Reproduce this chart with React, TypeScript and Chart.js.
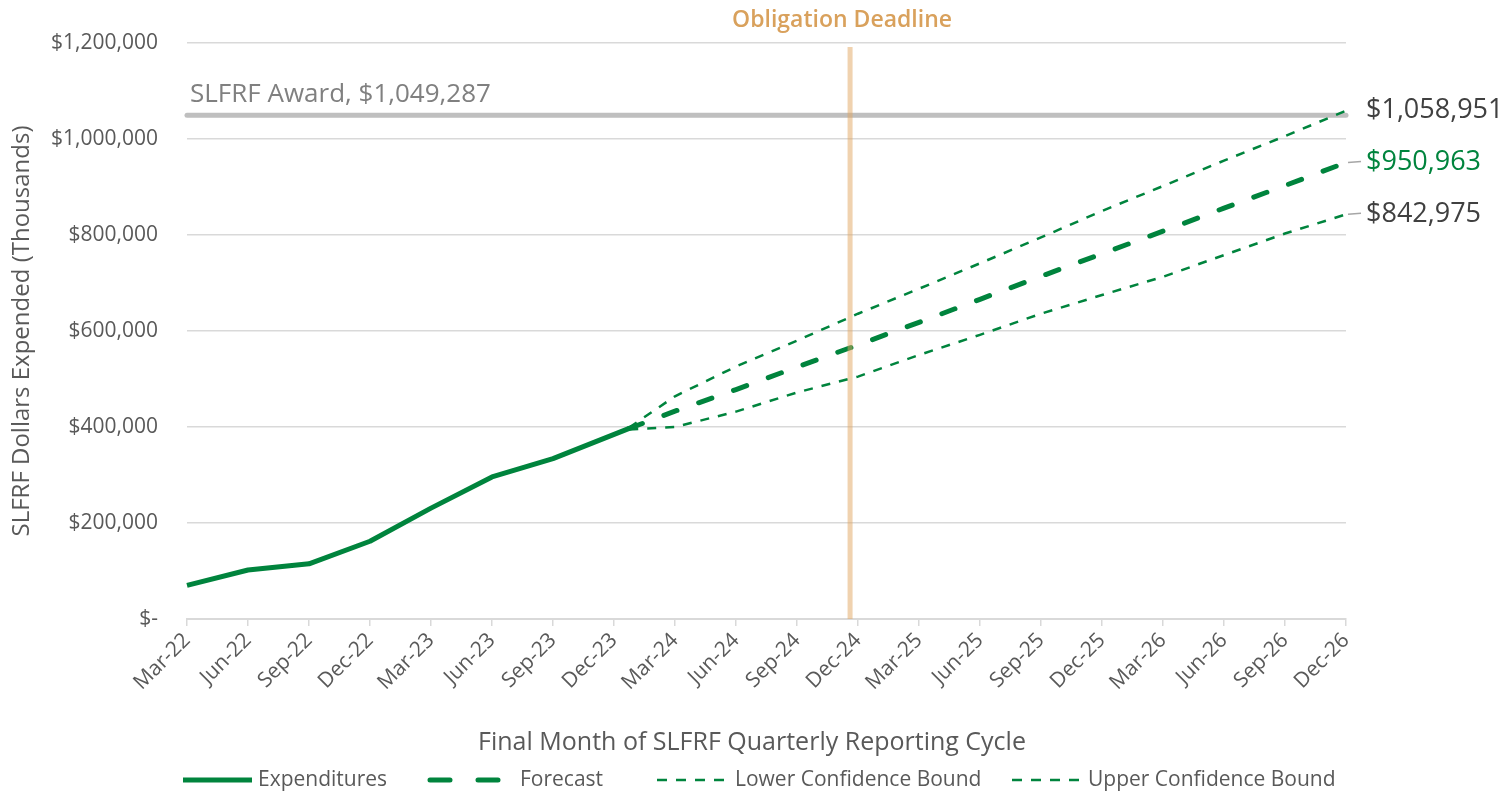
import React, { useEffect, useRef } from "react";
import { Chart, registerables } from "chart.js";

Chart.register(...registerables);

const xLabels = ["Mar-22","Jun-22","Sep-22","Dec-22","Mar-23","Jun-23","Sep-23","Dec-23","Mar-24","Jun-24","Sep-24","Dec-24","Mar-25","Jun-25","Sep-25","Dec-25","Mar-26","Jun-26","Sep-26","Dec-26"];
const expenditureQuarters = [0, 1, 2, 3, 4, 5, 6, 7.25];
const expenditureValues = [70000, 102000, 115000, 162000, 231000, 296000, 334000, 397000];
const forecastQuarters = [7.25, 8, 9, 10, 11, 12, 13, 14, 15, 16, 17, 18, 19];
const forecastValues = [397000, 433000, 478000, 525000, 571000, 618000, 666000, 714000, 761000, 808000, 856000, 903000, 950963];
const lowerValues = [395000, 400000, 432000, 472000, 505000, 550000, 592000, 636000, 675000, 713000, 758000, 803000, 842975];
const upperValues = [399000, 464000, 526000, 580000, 636000, 688000, 741000, 795000, 850000, 902000, 955000, 1006000, 1058951];
const awardQuarters = [0, 19];
const awardValue = 1049287;
const deadlineQuarter = 10.87;
const yTickValues = [0, 200000, 400000, 600000, 800000, 1000000, 1200000];

const GREEN = "#00843D";
const TEXT = "#595959";
const FONT = "'Open Sans', sans-serif";

const toPoints = (xs: number[], ys: number[]) => xs.map((x, i) => ({ x, y: ys[i] }));
const fmt = (v: number) => "$" + Math.round(v).toLocaleString("en-US");

const overlayPlugin = {
  id: "overlay",
  afterDatasetsDraw(chart: any) {
    const { ctx, chartArea, scales } = chart;
    const xs = scales.x;
    const ys = scales.y;
    ctx.save();
    // Deadline band
    const dx = xs.getPixelForValue(deadlineQuarter);
    ctx.fillStyle = "rgba(225,165,95,0.5)";
    ctx.fillRect(dx - 2.5, chartArea.top + 4, 5, chartArea.bottom - chartArea.top - 4);
    ctx.fillStyle = "#D9A15C";
    ctx.font = `600 23px ${FONT}`;
    ctx.textAlign = "center";
    ctx.textBaseline = "middle";
    ctx.fillText("Obligation Deadline", dx - 8, 20);

    // X axis title, centred on the whole chart
    ctx.fillStyle = TEXT;
    ctx.font = `25px ${FONT}`;
    ctx.fillText("Final Month of SLFRF Quarterly Reporting Cycle", chart.width / 2, 743);

    // Award label
    const ay = ys.getPixelForValue(awardValue);
    ctx.fillStyle = "#808080";
    ctx.font = `26px ${FONT}`;
    ctx.textAlign = "left";
    ctx.fillText("SLFRF Award, " + fmt(awardValue), chartArea.left + 3, ay - 21);

    // End labels
    const ends = [
      { v: upperValues[upperValues.length - 1], color: "#404040", leader: false },
      { v: forecastValues[forecastValues.length - 1], color: GREEN, leader: true },
      { v: lowerValues[lowerValues.length - 1], color: "#404040", leader: true },
    ];
    const ex = xs.getPixelForValue(forecastQuarters[forecastQuarters.length - 1]);
    ctx.font = `27px ${FONT}`;
    ends.forEach((e) => {
      const y = ys.getPixelForValue(e.v);
      if (e.leader) {
        ctx.strokeStyle = "#a6a6a6";
        ctx.lineWidth = 1.5;
        ctx.beginPath();
        ctx.moveTo(ex + 2, y);
        ctx.lineTo(ex + 15, y - 1);
        ctx.stroke();
      }
      ctx.fillStyle = e.color;
      ctx.fillText(fmt(e.v), ex + 20, y);
    });

    // Legend
    const ly = 780;
    ctx.font = `21px ${FONT}`;
    ctx.fillStyle = TEXT;
    ctx.textBaseline = "middle";
    const items = [
      { x0: 183, x1: 252, tx: 258, w: 5, dash: [] as number[], cap: "butt", text: "Expenditures" },
      { x0: 430, x1: 502, tx: 520, w: 5, dash: [20, 28], cap: "round", text: "Forecast" },
      { x0: 657, x1: 725, tx: 735, w: 2.5, dash: [10, 9], cap: "butt", text: "Lower Confidence Bound" },
      { x0: 1012, x1: 1080, tx: 1088, w: 2.5, dash: [10, 9], cap: "butt", text: "Upper Confidence Bound" },
    ];
    items.forEach((it) => {
      ctx.strokeStyle = GREEN;
      ctx.lineWidth = it.w;
      ctx.lineCap = it.cap as CanvasLineCap;
      ctx.setLineDash(it.dash);
      ctx.beginPath();
      ctx.moveTo(it.x0, ly);
      ctx.lineTo(it.x1, ly);
      ctx.stroke();
      ctx.setLineDash([]);
      ctx.fillText(it.text, it.tx, ly);
    });
    ctx.restore();
  },
};

export default function App() {
  const ref = useRef<HTMLCanvasElement>(null);
  useEffect(() => {
    if (!ref.current) return;
    Chart.defaults.font.family = FONT;
    const chart = new Chart(ref.current, {
      type: "line",
      data: {
        datasets: [
          {
            label: "Expenditures",
            data: toPoints(expenditureQuarters, expenditureValues),
            borderColor: GREEN,
            borderWidth: 5,
            pointRadius: 0,
            borderJoinStyle: "round",
            order: 1,
            clip: false,
          },
          {
            label: "Forecast",
            data: toPoints(forecastQuarters, forecastValues),
            borderColor: GREEN,
            borderWidth: 5,
            borderDash: [14, 23],
            borderCapStyle: "round",
            pointRadius: 0,
            order: 2,
            clip: false,
          },
          {
            label: "Lower Confidence Bound",
            data: toPoints(forecastQuarters, lowerValues),
            borderColor: GREEN,
            borderWidth: 2.5,
            borderDash: [9, 9],
            pointRadius: 0,
            order: 3,
            clip: false,
          },
          {
            label: "Upper Confidence Bound",
            data: toPoints(forecastQuarters, upperValues),
            borderColor: GREEN,
            borderWidth: 2.5,
            borderDash: [9, 9],
            pointRadius: 0,
            order: 4,
            clip: false,
          },
          {
            label: "SLFRF Award",
            data: toPoints(awardQuarters, awardQuarters.map(() => awardValue)),
            borderColor: "#bfbfbf",
            borderWidth: 5,
            borderCapStyle: "round",
            pointRadius: 0,
            order: 10,
            clip: false,
          },
        ],
      },
      options: {
        responsive: false,
        animation: false,
        layout: { padding: { top: 43, right: 158, bottom: 37, left: 0 } },
        plugins: {
          legend: { display: false },
          tooltip: { enabled: false },
        },
        scales: {
          x: {
            type: "linear",
            min: 0,
            max: xLabels.length - 1,
            afterBuildTicks: (scale: any) => {
              scale.ticks = xLabels.map((_, i) => ({ value: i }));
            },
            afterFit: (scale: any) => {
              scale.height = 138;
            },
            ticks: {
              autoSkip: false,
              minRotation: 45,
              maxRotation: 45,
              color: TEXT,
              font: { size: 21, family: FONT },
              padding: 2,
              callback: (v: any) => xLabels[v] ?? "",
            },
            grid: {
              drawOnChartArea: false,
              drawTicks: true,
              tickLength: 7,
              color: "#d9d9d9",
              lineWidth: 1.5,
            },
            border: { display: true, color: "#d9d9d9", width: 2 },
            title: { display: false },
          },
          y: {
            min: 0,
            max: 1200000,
            afterBuildTicks: (scale: any) => {
              scale.ticks = yTickValues.map((v) => ({ value: v }));
            },
            afterFit: (scale: any) => {
              scale.width = 187;
            },
            ticks: {
              color: TEXT,
              font: { size: 21, family: FONT },
              padding: 29,
              callback: (v: any) => (v === 0 ? "$-" : fmt(v)),
            },
            grid: { color: "#d9d9d9", lineWidth: 1.5, drawTicks: false },
            border: { display: false },
            title: {
              display: true,
              text: "SLFRF Dollars Expended (Thousands)",
              color: TEXT,
              font: { size: 24, family: FONT },
              padding: { top: 8, bottom: 0 },
            },
          },
        },
      },
      plugins: [overlayPlugin],
    } as any);
    return () => chart.destroy();
  }, []);
  return (
    <div style={{ position: "fixed", left: 0, top: 0, width: 1504, height: 794, background: "#fff" }}>
      <canvas ref={ref} width={1504} height={794} style={{ display: "block" }} />
    </div>
  );
}
